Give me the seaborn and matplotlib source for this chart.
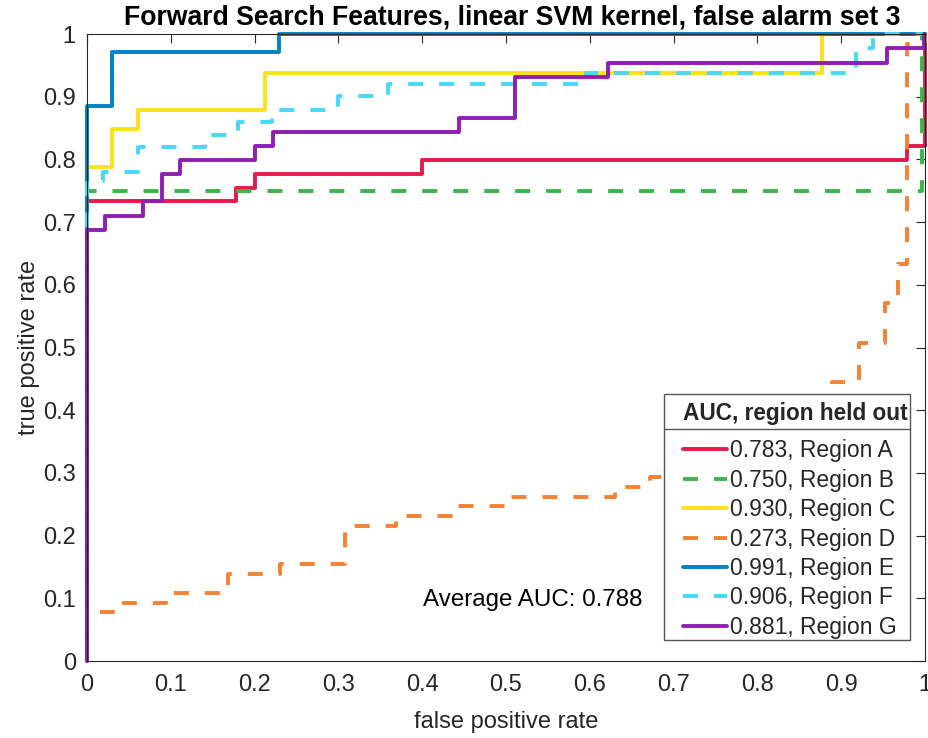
import numpy as np
import pandas as pd
import matplotlib
matplotlib.use("Agg")
import matplotlib.pyplot as plt
from matplotlib.lines import Line2D
from matplotlib.patches import Rectangle
import seaborn as sns

# ROC curves (step corners) for each held-out region
fpr_A = [0, 0, 0.178, 0.178, 0.2005, 0.2005, 0.400, 0.400, 0.978, 0.978, 1.0, 1.0]
tpr_A = [0, 0.733, 0.733, 0.755, 0.755, 0.777, 0.777, 0.799, 0.799, 0.821, 0.821, 1.0]

fpr_B = [0, 0, 0.997, 0.997, 1.0]
tpr_B = [0, 0.750, 0.750, 1.0, 1.0]

fpr_C = [0, 0, 0.030, 0.030, 0.061, 0.061, 0.2124, 0.2124, 0.877, 0.877, 1.0]
tpr_C = [0, 0.788, 0.788, 0.848, 0.848, 0.879, 0.879, 0.938, 0.938, 1.0, 1.0]

fpr_D = [0, 0, 0.0314, 0.0314, 0.094, 0.094, 0.1687, 0.1687, 0.2303, 0.2303,
         0.3079, 0.3079, 0.3687, 0.3687, 0.443, 0.443, 0.5048, 0.5048, 0.630, 0.630,
         0.672, 0.672, 0.72, 0.72, 0.78, 0.78, 0.84, 0.84, 0.889, 0.889,
         0.9216, 0.9216, 0.952, 0.952, 0.968, 0.968, 0.978, 0.978, 1.0, 1.0]
tpr_D = [0, 0.078, 0.078, 0.092, 0.092, 0.108, 0.108, 0.139, 0.139, 0.154,
         0.154, 0.216, 0.216, 0.232, 0.232, 0.247, 0.247, 0.262, 0.262, 0.278,
         0.278, 0.293, 0.293, 0.324, 0.324, 0.370, 0.370, 0.415, 0.415, 0.4455,
         0.4455, 0.507, 0.507, 0.5705, 0.5705, 0.633, 0.633, 0.984, 0.984, 1.0]

fpr_E = [0, 0, 0.0295, 0.0295, 0.229, 0.229, 1.0]
tpr_E = [0, 0.885, 0.885, 0.971, 0.971, 1.0, 1.0]

fpr_F = [0, 0, 0.0195, 0.0195, 0.061, 0.061, 0.141, 0.141, 0.1805, 0.1805,
         0.2204, 0.2204, 0.300, 0.300, 0.3596, 0.3596, 0.595, 0.595, 0.918, 0.918,
         0.938, 0.938, 1.0]
tpr_F = [0, 0.765, 0.765, 0.780, 0.780, 0.820, 0.820, 0.839, 0.839, 0.860,
         0.860, 0.879, 0.879, 0.901, 0.901, 0.920, 0.920, 0.938, 0.938, 0.977,
         0.977, 1.0, 1.0]

fpr_G = [0, 0, 0.022, 0.022, 0.067, 0.067, 0.089, 0.089, 0.111, 0.111,
         0.2005, 0.2005, 0.2224, 0.2224, 0.4443, 0.4443, 0.5107, 0.5107, 0.6213, 0.6213,
         0.955, 0.955, 0.999, 0.999, 1.0]
tpr_G = [0, 0.688, 0.688, 0.710, 0.710, 0.733, 0.733, 0.777, 0.777, 0.799,
         0.799, 0.821, 0.821, 0.843, 0.843, 0.8655, 0.8655, 0.932, 0.932, 0.954,
         0.954, 0.977, 0.977, 1.0, 1.0]

regions = ["A", "B", "C", "D", "E", "F", "G"]
auc_values = [0.783, 0.750, 0.930, 0.273, 0.991, 0.906, 0.881]
curves = [(fpr_A, tpr_A), (fpr_B, tpr_B), (fpr_C, tpr_C), (fpr_D, tpr_D),
          (fpr_E, tpr_E), (fpr_F, tpr_F), (fpr_G, tpr_G)]

colors = ["#e6194b", "#3cb44b", "#ffe119", "#f58231", "#0082c8", "#48d8f8", "#911eb4"]
dashed = [False, True, False, True, False, True, False]

tick_values = [0, 0.1, 0.2, 0.3, 0.4, 0.5, 0.6, 0.7, 0.8, 0.9, 1]
tick_labels = ["0", "0.1", "0.2", "0.3", "0.4", "0.5", "0.6", "0.7", "0.8", "0.9", "1"]

sns.set_style("white")
plt.rcParams["font.family"] = ["Liberation Sans", "DejaVu Sans"]
plt.rcParams["lines.scale_dashes"] = False

fig = plt.figure(figsize=(9.29, 7.38), dpi=100)
ax = fig.add_axes([0.0936, 0.1043, 0.9021, 0.8496])

ink = "#262626"
for (fpr, tpr), name, auc, col, dsh in zip(curves, regions, auc_values, colors, dashed):
    df = pd.DataFrame({"fpr": fpr, "tpr": tpr})
    ls = (0, (10.8, 11.5)) if dsh else "-"
    sns.lineplot(data=df, x="fpr", y="tpr", ax=ax, estimator=None, sort=False,
                 color=col, linewidth=2.8, linestyle=ls,
                 label=f"{auc:.3f}, Region {name}")
for ln in ax.get_lines():
    ln.set_clip_on(False)
    ln.set_dash_capstyle("butt")

ax.set_xlim(0, 1)
ax.set_ylim(0, 1)
ax.set_xticks(tick_values)
ax.set_xticklabels(tick_labels)
ax.set_yticks(tick_values)
ax.set_yticklabels(tick_labels)
ax.tick_params(axis="both", direction="in", length=6.5, width=0.8, colors=ink,
               labelsize=17, top=True, right=True)
ax.tick_params(axis="x", pad=9)
ax.tick_params(axis="y", pad=8)
for sp in ax.spines.values():
    sp.set_color(ink)
    sp.set_linewidth(0.8)
    sp.set_visible(True)

ax.set_xlabel("false positive rate", fontsize=17, color=ink, labelpad=11)
ax.set_ylabel("true positive rate", fontsize=17, color=ink, labelpad=2)
ax.set_title("Forward Search Features, linear SVM kernel, false alarm set 3",
             fontsize=19.2, fontweight="bold", color="black", pad=7, x=0.508)

avg_auc = np.mean(auc_values)
ax.text(0.401, 0.097, f"Average AUC: {avg_auc:.3f}", fontsize=17.4, color="black",
        va="center", ha="left", transform=ax.transData)

# legend entries without frame; a boxed panel with a title rule is drawn beneath
leg = ax.legend(loc="upper left", bbox_to_anchor=(0.7112, 0.413), borderaxespad=0,
                title="AUC, region held out", fontsize=16.5, frameon=False,
                handlelength=1.9, handletextpad=0.15, labelspacing=0.28,
                borderpad=0, alignment="left")
leg.get_title().set_fontweight("bold")
leg.get_title().set_fontsize(16.3)
leg._legend_box.sep = 10.3
leg.set_zorder(6)

box_left, box_right, box_bottom, box_top = 0.6885, 0.982, 0.0335, 0.4258
rule_y = 0.370
ax.add_patch(Rectangle((box_left, box_bottom), box_right - box_left, box_top - box_bottom,
                       transform=ax.transAxes, facecolor="white", edgecolor="#555555",
                       linewidth=1.0, zorder=5, clip_on=False))
ax.add_line(Line2D([box_left, box_right], [rule_y, rule_y], transform=ax.transAxes,
                   color="#555555", linewidth=1.0, zorder=5.5, clip_on=False))

fig.savefig("out.png", dpi=100)
